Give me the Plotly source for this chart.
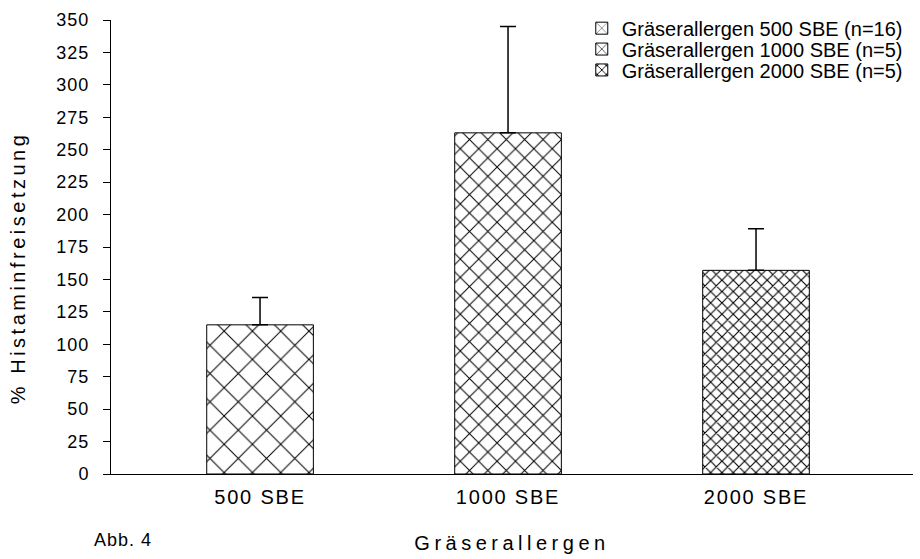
import plotly.graph_objects as go

# Histamine release per grass allergen dose
categories = ["500 SBE", "1000 SBE", "2000 SBE"]
series_names = [
    "Gräserallergen 500 SBE (n=16)",
    "Gräserallergen 1000 SBE (n=5)",
    "Gräserallergen 2000 SBE (n=5)",
]
means = [115, 263, 157]
sem_up = [21, 82, 32]
y_ticks = list(range(0, 351, 25))

# crosshatch density per dose
pattern_sizes = [20, 13, 8]
pattern_solidity = [0.10, 0.15, 0.26]

FONT = "Liberation Sans, Arial, sans-serif"

# one legend box per series so the row spacing can be set freely
legend_ids = ["legend", "legend2", "legend3"]
legend_y = [0.982, 0.936, 0.890]

fig = go.Figure()
for i, (cat, name, m, e) in enumerate(zip(categories, series_names, means, sem_up)):
    fig.add_trace(go.Bar(
        x=[cat], y=[m], name=name,
        width=0.43,
        legend=legend_ids[i],
        marker=dict(
            color="white",
            line=dict(color="black", width=1),
            pattern=dict(shape="x", fgcolor="black", bgcolor="white",
                         size=pattern_sizes[i], solidity=pattern_solidity[i],
                         fillmode="replace"),
        ),
        error_y=dict(type="data", symmetric=False, array=[e], arrayminus=[0],
                     color="black", thickness=1.5, width=8),
    ))

legend_style = dict(x=0.587, xanchor="left", yanchor="middle",
                    bgcolor="rgba(0,0,0,0)", font=dict(size=20), itemwidth=30)

fig.update_layout(
    width=920, height=559,
    margin=dict(l=111, r=7, t=20, b=85),
    paper_bgcolor="white", plot_bgcolor="white",
    font=dict(family=FONT, color="black", size=18),
    barmode="overlay",
    showlegend=True,
    legend=dict(y=legend_y[0], **legend_style),
    legend2=dict(y=legend_y[1], **legend_style),
    legend3=dict(y=legend_y[2], **legend_style),
    xaxis=dict(
        categoryorder="array", categoryarray=categories,
        range=[-0.601, 2.633],
        showline=True, linecolor="black", linewidth=1,
        ticks="", showgrid=False, zeroline=False,
        tickfont=dict(size=20), ticklabelstandoff=5,
        title=dict(text="Gräserallergen", font=dict(size=20), standoff=28),
    ),
    yaxis=dict(
        range=[0, 350],
        tickvals=y_ticks,
        showline=True, linecolor="black", linewidth=1,
        ticks="outside", ticklen=7, tickcolor="black",
        showgrid=False, zeroline=False,
        tickfont=dict(size=18), ticklabelstandoff=10,
    ),
)

# vertical axis caption, set slightly below the plot centre
fig.add_annotation(
    text="% Histaminfreisetzung", xref="paper", yref="paper",
    x=-0.116, y=0.455, xanchor="center", yanchor="middle", textangle=-90,
    showarrow=False, font=dict(size=20),
)

fig.add_annotation(
    text="Abb. 4", xref="paper", yref="paper",
    x=-0.02, y=-0.145, xanchor="left", yanchor="middle",
    showarrow=False, font=dict(size=18),
)

# widen the character tracking of the labels
tracking_js = """
var gd = document.getElementById('{plot_id}');
function track(sel, px) {
  gd.querySelectorAll(sel).forEach(function (t) {
    t.style.letterSpacing = px + 'px';
  });
}
track('.xtitle', 4.5);
track('.xtick text', 1.8);
track('.ytick text', 1);
gd.querySelectorAll('.annotation-text').forEach(function (t) {
  if (t.textContent.charAt(0) === '%') { t.style.letterSpacing = '3.5px'; }
  else { t.style.letterSpacing = '1px'; }
});
"""

fig.write_html("out.html", post_script=tracking_js)
